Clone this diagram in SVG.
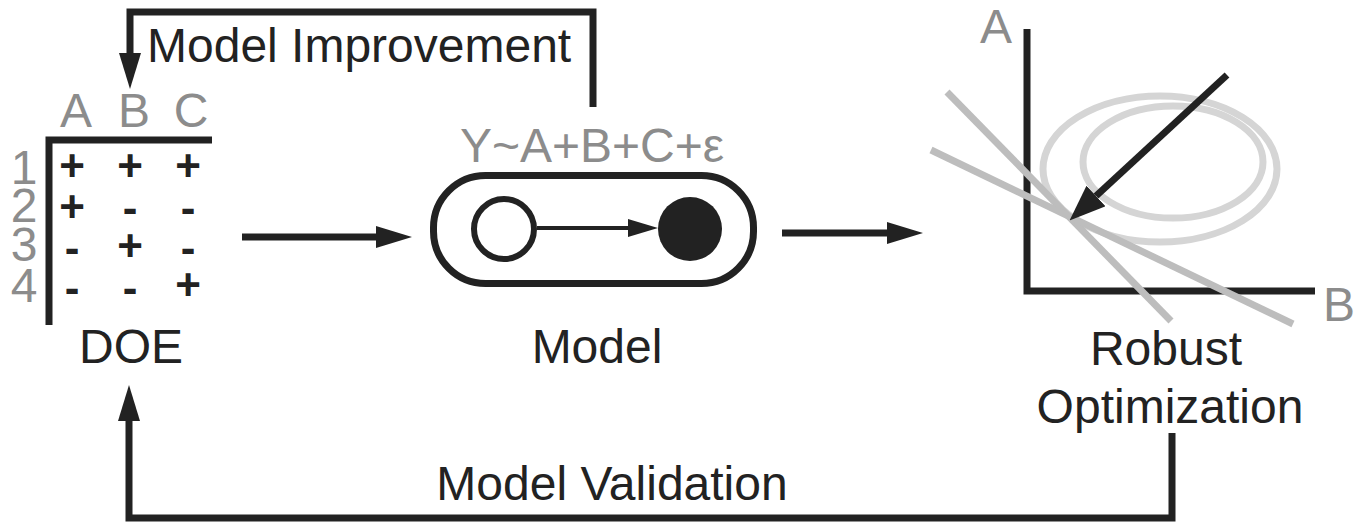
<svg xmlns="http://www.w3.org/2000/svg" width="1370" height="525" viewBox="0 0 1370 525">
<style>
text{font-family:"Liberation Sans",Arial,sans-serif;font-size:48px}
.k{fill:#222}
.g{fill:#8c8c8c}
.m{text-anchor:middle}
.s{font-weight:bold;font-size:44px}
.thick{fill:none;stroke:#222;stroke-width:7}
.thin{fill:none;stroke:#222;stroke-width:4}
.gl{stroke:#bdbdbd;stroke-width:7;fill:none}
.el{stroke:#d5d5d5;stroke-width:7;fill:none}
</style>
<defs>
<marker id="ah" viewBox="0 0 36 22" markerUnits="userSpaceOnUse" markerWidth="36" markerHeight="22" refX="0" refY="11" orient="auto">
<path d="M0,0 L36,11 L0,22 z" fill="#222"/>
</marker>
<marker id="ahs" viewBox="0 0 30 18" markerUnits="userSpaceOnUse" markerWidth="30" markerHeight="18" refX="0" refY="9" orient="auto">
<path d="M0,0 L30,9 L0,18 z" fill="#222"/>
</marker>
<marker id="ahr" viewBox="0 0 36 28" markerUnits="userSpaceOnUse" markerWidth="36" markerHeight="28" refX="0" refY="14" orient="auto">
<path d="M0,0 L36,14 L0,28 z" fill="#222"/>
</marker>
</defs>

<g id="connectors">
<path class="thick" d="M593,107 V12 H130 V53" marker-end="url(#ah)"/>
<text class="k" x="147" y="62">Model Improvement</text>
<line class="thick" x1="242" y1="237" x2="376" y2="237" marker-end="url(#ah)"/>
<line class="thick" x1="782" y1="233" x2="887" y2="233" marker-end="url(#ah)"/>
<path class="thick" d="M1172,433 V518 H129 V421" marker-end="url(#ah)"/>
<text class="k m" x="612" y="500">Model Validation</text>
</g>

<g id="doe">
<path class="thick" d="M49,325 V140 H212"/>
<text class="g m" x="76" y="127">A</text>
<text class="g m" x="134" y="127">B</text>
<text class="g m" x="191" y="127">C</text>
<text class="g m" x="24" y="184">1</text>
<text class="g m" x="24" y="222">2</text>
<text class="g m" x="24" y="261">3</text>
<text class="g m" x="24" y="302">4</text>
<text class="k m s" x="72" y="181">+</text>
<text class="k m s" x="130" y="181">+</text>
<text class="k m s" x="188" y="181">+</text>
<text class="k m s" x="72" y="222">+</text>
<text class="k m s" x="130" y="223">-</text>
<text class="k m s" x="188" y="223">-</text>
<text class="k m s" x="72" y="263">-</text>
<text class="k m s" x="130" y="261">+</text>
<text class="k m s" x="188" y="263">-</text>
<text class="k m s" x="72" y="303">-</text>
<text class="k m s" x="130" y="303">-</text>
<text class="k m s" x="188" y="300">+</text>
<text class="k m" x="131" y="363">DOE</text>
</g>

<g id="model">
<text class="g m" x="592" y="162">Y~A+B+C+ε</text>
<rect class="thick" x="433.5" y="175.5" width="320" height="108" rx="52" ry="52"/>
<circle cx="504" cy="229" r="30" fill="#fff" stroke="#222" stroke-width="6"/>
<circle cx="690" cy="229" r="32" fill="#222"/>
<line class="thin" x1="537" y1="228" x2="628" y2="228" marker-end="url(#ahs)"/>
<text class="k m" x="597" y="363">Model</text>
</g>

<g id="robust-optimization">
<path class="thick" d="M1027,29 V291 H1315"/>
<text class="g m" x="996" y="43">A</text>
<text class="g m" x="1339" y="321">B</text>
<ellipse class="el" cx="1160" cy="169" rx="117" ry="73"/>
<ellipse class="el" cx="1173" cy="162" rx="90" ry="56"/>
<line class="gl" x1="947" y1="92" x2="1171" y2="321"/>
<line class="gl" x1="931" y1="150" x2="1293" y2="324"/>
<line class="thick" x1="1227" y1="75" x2="1096" y2="196" marker-end="url(#ahr)"/>
<text class="k m" x="1166" y="365">Robust</text>
<text class="k m" x="1170" y="423">Optimization</text>
</g>
</svg>
